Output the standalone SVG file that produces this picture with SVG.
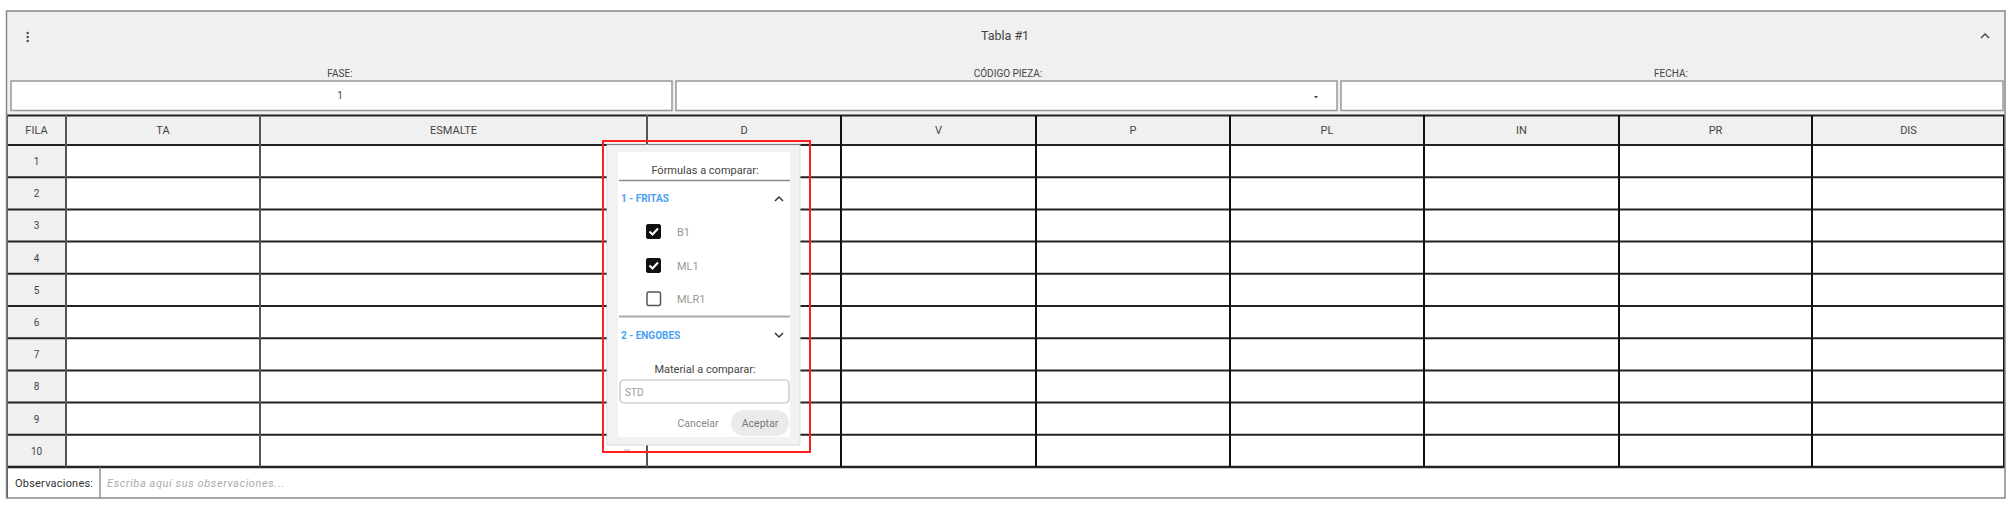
<svg xmlns="http://www.w3.org/2000/svg" width="2009" height="524" viewBox="0 0 2009 524">
<style>
.t{font-family:Roboto,"Liberation Sans",sans-serif;font-size:11px;fill:#444;text-anchor:middle}
.lbl{font-family:Roboto,"Liberation Sans",sans-serif;font-size:10px;fill:#444;text-anchor:middle}
.hl{stroke:#222;stroke-width:2}
.vg{stroke:#555;stroke-width:2}
.vb{stroke:#111;stroke-width:2}
.inp{fill:#fff;stroke:#999;stroke-width:1.5}
.pt{font-family:Roboto,"Liberation Sans",sans-serif;font-size:11px;fill:#444}
.blue{font-family:Roboto,"Liberation Sans",sans-serif;font-size:10px;fill:#4a9ff5;font-weight:bold}
.gray{font-family:Roboto,"Liberation Sans",sans-serif;font-size:11px;fill:#999}
</style>
<rect width="2009" height="524" fill="#fff"/>
<g id="panel-header">
<rect x="6.5" y="11" width="1998.5" height="104" fill="#f0f0f0"/>
<circle cx="27.7" cy="33" r="1.3" fill="#555"/>
<circle cx="27.7" cy="37" r="1.3" fill="#555"/>
<circle cx="27.7" cy="41" r="1.3" fill="#555"/>
<text class="t" x="1005" y="40" style="font-size:12.5px">Tabla #1</text>
<path d="M1981 38 L1985 34 L1989 38" fill="none" stroke="#444" stroke-width="1.4"/>
</g>
<g id="field-fase">
<text class="lbl" x="340" y="77">FASE:</text>
<rect class="inp" x="11" y="81" width="661" height="29.5"/>
<text class="lbl" x="340" y="99">1</text>
</g>
<g id="field-codigo">
<text class="lbl" x="1008" y="77">CÓDIGO PIEZA:</text>
<rect class="inp" x="676" y="81" width="661" height="29.5"/>
<path d="M1314 96 L1318 96 L1316 98.5 Z" fill="#444"/>
</g>
<g id="field-fecha">
<text class="lbl" x="1671" y="77">FECHA:</text>
<rect class="inp" x="1341" y="81" width="662" height="29.5"/>
</g>
<g id="table">
<rect x="7" y="115" width="1998" height="30" fill="#f0f0f0"/>
<rect x="7" y="145" width="59" height="322" fill="#f0f0f0"/>
<g class="t">
<text x="36.5" y="134">FILA</text>
<text x="163" y="134">TA</text>
<text x="453.5" y="134">ESMALTE</text>
<text x="744" y="134">D</text>
<text x="938.5" y="134">V</text>
<text x="1133" y="134">P</text>
<text x="1327" y="134">PL</text>
<text x="1521.5" y="134">IN</text>
<text x="1715.5" y="134">PR</text>
<text x="1908.5" y="134">DIS</text>
<text x="36.5" y="165" style="font-size:10px">1</text>
<text x="36.5" y="197.2" style="font-size:10px">2</text>
<text x="36.5" y="229.4" style="font-size:10px">3</text>
<text x="36.5" y="261.6" style="font-size:10px">4</text>
<text x="36.5" y="293.8" style="font-size:10px">5</text>
<text x="36.5" y="326" style="font-size:10px">6</text>
<text x="36.5" y="358.2" style="font-size:10px">7</text>
<text x="36.5" y="390.4" style="font-size:10px">8</text>
<text x="36.5" y="422.6" style="font-size:10px">9</text>
<text x="36.5" y="454.8" style="font-size:10px">10</text>
</g>
<g>
<line class="hl" x1="7" y1="115.5" x2="2005" y2="115.5"/>
<line class="hl" x1="7" y1="145" x2="2005" y2="145"/>
<line class="hl" x1="7" y1="177.2" x2="2005" y2="177.2"/>
<line class="hl" x1="7" y1="209.4" x2="2005" y2="209.4"/>
<line class="hl" x1="7" y1="241.6" x2="2005" y2="241.6"/>
<line class="hl" x1="7" y1="273.8" x2="2005" y2="273.8"/>
<line class="hl" x1="7" y1="306" x2="2005" y2="306"/>
<line class="hl" x1="7" y1="338.2" x2="2005" y2="338.2"/>
<line class="hl" x1="7" y1="370.4" x2="2005" y2="370.4"/>
<line class="hl" x1="7" y1="402.6" x2="2005" y2="402.6"/>
<line class="hl" x1="7" y1="434.8" x2="2005" y2="434.8"/>
<line class="hl" x1="7" y1="467" x2="2005" y2="467" style="stroke-width:2.5"/>
<line class="vg" x1="7" y1="115" x2="7" y2="498"/>
<line class="vg" x1="66" y1="115" x2="66" y2="467"/>
<line class="vg" x1="260" y1="115" x2="260" y2="467"/>
<line class="vg" x1="647" y1="115" x2="647" y2="467"/>
<line class="vb" x1="841" y1="115" x2="841" y2="467"/>
<line class="vb" x1="1036" y1="115" x2="1036" y2="467"/>
<line class="vb" x1="1230" y1="115" x2="1230" y2="467"/>
<line class="vb" x1="1424" y1="115" x2="1424" y2="467"/>
<line class="vb" x1="1619" y1="115" x2="1619" y2="467"/>
<line class="vb" x1="1812" y1="115" x2="1812" y2="467"/>
<line class="vb" x1="2004" y1="115" x2="2004" y2="467"/>
</g>
</g>
<g id="observaciones">
<text x="15" y="487" textLength="78" style="font-family:Roboto,'Liberation Sans',sans-serif;font-size:11px;fill:#333">Observaciones:</text>
<line x1="100" y1="467" x2="100" y2="498" stroke="#777" stroke-width="1.2"/>
<text x="107" y="487" textLength="177" style="font-family:Roboto,'Liberation Sans',sans-serif;font-size:11px;fill:#aaa;font-style:italic">Escriba aquí sus observaciones...</text>
</g>
<rect x="6.5" y="11" width="1998.5" height="487" fill="none" stroke="#888" stroke-width="1.5"/>
<g id="popup">
<rect x="607" y="145" width="193" height="300" fill="#f2f2f2" stroke="#ddd" stroke-width="1"/>
<rect x="618" y="152" width="172" height="285" fill="#fff"/>
<text class="pt" x="705" y="174" text-anchor="middle">Fórmulas a comparar:</text>
<line x1="619" y1="180.5" x2="790" y2="180.5" stroke="#888" stroke-width="1.5"/>
<text class="blue" x="621" y="202">1 - FRITAS</text>
<path d="M775 201 L779 197 L783 201" fill="none" stroke="#333" stroke-width="1.5"/>
<g id="cb-b1">
<rect x="646.5" y="224.5" width="14" height="14" rx="1.5" fill="#111" stroke="#111"/>
<path d="M649.5 231.5 L652.5 234.5 L658 228.5" fill="none" stroke="#fff" stroke-width="2"/>
<text class="gray" x="677" y="236">B1</text>
</g>
<g id="cb-ml1">
<rect x="646.5" y="258.5" width="14" height="14" rx="1.5" fill="#111" stroke="#111"/>
<path d="M649.5 265.5 L652.5 268.5 L658 262.5" fill="none" stroke="#fff" stroke-width="2"/>
<text class="gray" x="677" y="270">ML1</text>
</g>
<g id="cb-mlr1">
<rect x="647" y="292" width="13.5" height="13.5" rx="1.5" fill="#fff" stroke="#555" stroke-width="1.5"/>
<text class="gray" x="677" y="303">MLR1</text>
</g>
<line x1="619" y1="316.5" x2="790" y2="316.5" stroke="#aaa" stroke-width="2"/>
<text class="blue" x="621" y="339">2 - ENGOBES</text>
<path d="M775 333 L779 337 L783 333" fill="none" stroke="#333" stroke-width="1.5"/>
<text class="pt" x="705" y="373" text-anchor="middle">Material a comparar:</text>
<rect x="620" y="380" width="169" height="23" rx="4" fill="#fff" stroke="#bbb" stroke-width="1.2"/>
<text class="gray" x="625" y="395.5" style="font-size:10px">STD</text>
<text class="gray" x="698" y="427" text-anchor="middle" style="fill:#888;font-size:10.5px">Cancelar</text>
<rect x="731" y="410" width="58" height="26" rx="13" fill="#ebebeb"/>
<text class="gray" x="760" y="427" text-anchor="middle" style="fill:#777;font-size:10.5px">Aceptar</text>
</g>
<line x1="624" y1="450" x2="630" y2="450" stroke="#aaa" stroke-width="1"/>
<rect x="603" y="141" width="207" height="311" fill="none" stroke="#ff1f1f" stroke-width="2"/>
</svg>
